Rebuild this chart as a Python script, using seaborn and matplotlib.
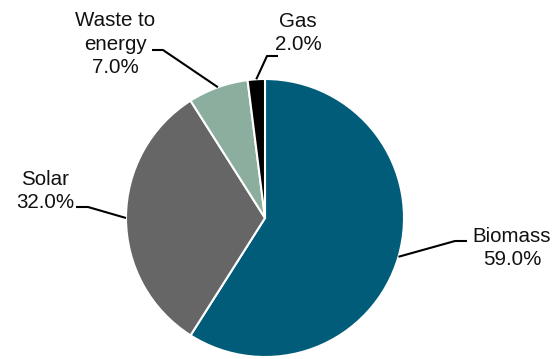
import numpy as np
import matplotlib
matplotlib.use('Agg')
import matplotlib.pyplot as plt
import seaborn as sns

labels = ['Biomass', 'Solar', 'Waste to\nenergy', 'Gas']
shares = [59.0, 32.0, 7.0, 2.0]
colors = ['#005C78', '#666666', '#8CAE9F', '#000000']

sns.set_theme(style='white')
plt.rcParams['font.family'] = ['Liberation Sans', 'DejaVu Sans']

fig = plt.figure(figsize=(5.52, 3.59), dpi=100)
ax = fig.add_axes([0, 0, 1, 1])

cx, cy, r = 265, 141, 139
wedges, _ = ax.pie(shares, colors=colors, startangle=90, counterclock=False,
                   center=(cx, cy), radius=r, frame=True,
                   wedgeprops=dict(edgecolor='white', linewidth=1.5))
ax.set_xlim(0, 552)
ax.set_ylim(0, 359)
ax.set_aspect('equal')
ax.axis('off')

# text anchor, elbow point, line end (pixel layout, y from bottom)
layout = [
    dict(text=(512, 111), elbow=(455, 118), line_end=(467, 118)),
    dict(text=(45, 168), elbow=(88, 152), line_end=(76, 152)),
    dict(text=(115, 315), elbow=(163, 309), line_end=(152, 309)),
    dict(text=(298, 326), elbow=(267, 303), line_end=(278, 303)),
]

for w, lab, val, lo in zip(wedges, labels, shares, layout):
    mid = np.deg2rad((w.theta1 + w.theta2) / 2)
    px, py = cx + r * np.cos(mid), cy + r * np.sin(mid)
    ex, ey = lo['elbow']
    lx, ly = lo['line_end']
    ax.plot([px, ex, lx], [py, ey, ly], color='black', lw=1.5,
            solid_capstyle='butt', zorder=3)
    ax.text(lo['text'][0], lo['text'][1], f'{lab}\n{val:.1f}%', ha='center',
            va='center', fontsize=14.8, color='#111111', linespacing=1.28)

fig.savefig('out.png', dpi=100)
